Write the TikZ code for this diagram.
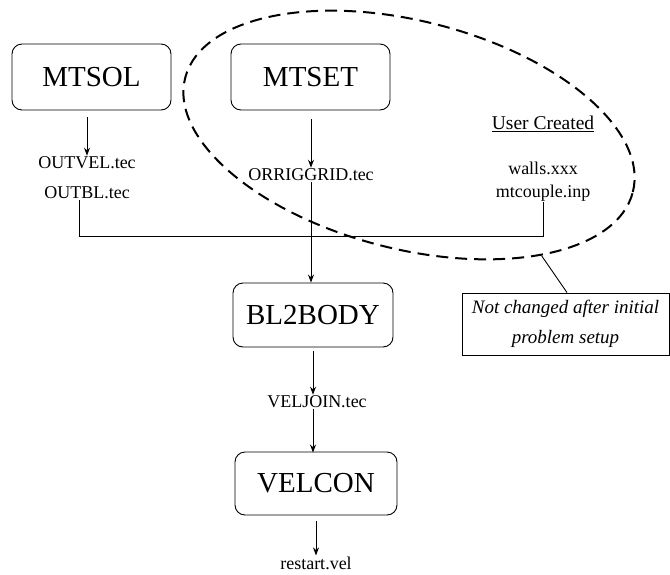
\documentclass[tikz,border=0pt]{standalone}
\usepackage{fontspec}
\setmainfont{Liberation Serif}
\usetikzlibrary{shapes.geometric,arrows.meta}
\begin{document}
\begin{tikzpicture}[x=1pt,y=-1pt,
  prog/.style={draw,line width=0.9pt,rounded corners=10pt,inner sep=0pt,font=\fontsize{29}{29}\selectfont},
  file/.style={inner sep=1pt,font=\fontsize{18}{18}\selectfont},
  arr/.style={-{Stealth[length=8pt,width=6pt]},line width=0.9pt},
  ln/.style={line width=0.9pt}]
\useasboundingbox (0,0) rectangle (670,574);
% programs
\node[prog,minimum width=159pt,minimum height=66pt] (mtsol) at (91.5,77) {MTSOL};
\node[prog,minimum width=159pt,minimum height=66pt] (mtset) at (310.5,77) {MTSET};
\node[prog,minimum width=160pt,minimum height=64pt] (bl2body) at (313,315) {BL2BODY};
\node[prog,minimum width=162pt,minimum height=63pt] (velcon) at (316,483.5) {VELCON};
% files
\node[file] (outvel) at (87,163) {OUTVEL.tec};
\node[file] (outbl) at (87,193) {OUTBL.tec};
\node[file] (orrig) at (311,175) {ORRIGGRID.tec};
\node[file,font=\fontsize{19.5}{19.5}\selectfont] (user) at (543,124) {\underline{User Created}};
\node[file] (walls) at (543,168) {walls.xxx};
\node[file] (mtcouple) at (543,193) {mtcouple.inp};
\node[file] (veljoin) at (317,402) {VELJOIN.tec};
\node[file] (restart) at (316,563) {restart.vel};
% note
\node[draw,line width=0.9pt,minimum width=207pt,minimum height=62pt,inner sep=0pt,align=center,
  font=\fontsize{19}{30}\selectfont\itshape] (note) at (565.5,324) {Not changed after initial\\problem setup};
% dashed ellipse
\node[ellipse,draw,dashed,dash pattern=on 12pt off 7pt,line width=2pt,minimum width=462pt,minimum height=228pt,
  inner sep=0pt,rotate=-14.3] (ell) at (409,135) {};
% arrows
\draw[arr,shorten <=7pt] (mtsol.south -| outvel) -- (outvel.north);
\draw[arr,shorten <=9pt] (mtset.south -| orrig) -- (orrig.north);
\draw[arr] (orrig.south) -- (bl2body.north -| orrig);
\draw[arr,shorten <=4pt] (bl2body.south) -- (veljoin.north -| bl2body.south);
\draw[arr] (veljoin.south -| bl2body.south) -- ([yshift=-1pt]velcon.north -| bl2body.south);
\draw[arr,shorten <=6pt] (velcon.south) -- (restart.north -| velcon.south);
% bracket
\coordinate (bl) at ([xshift=-8pt]outbl.south);
\coordinate (br) at (mtcouple.south);
\draw[ln] (bl) -- (bl |- 0,236) -- (br |- 0,236) -- (br);
% note line
\draw[ln] (ell.-28.6) -- (note.north -| 567,0);
\end{tikzpicture}
\end{document}
